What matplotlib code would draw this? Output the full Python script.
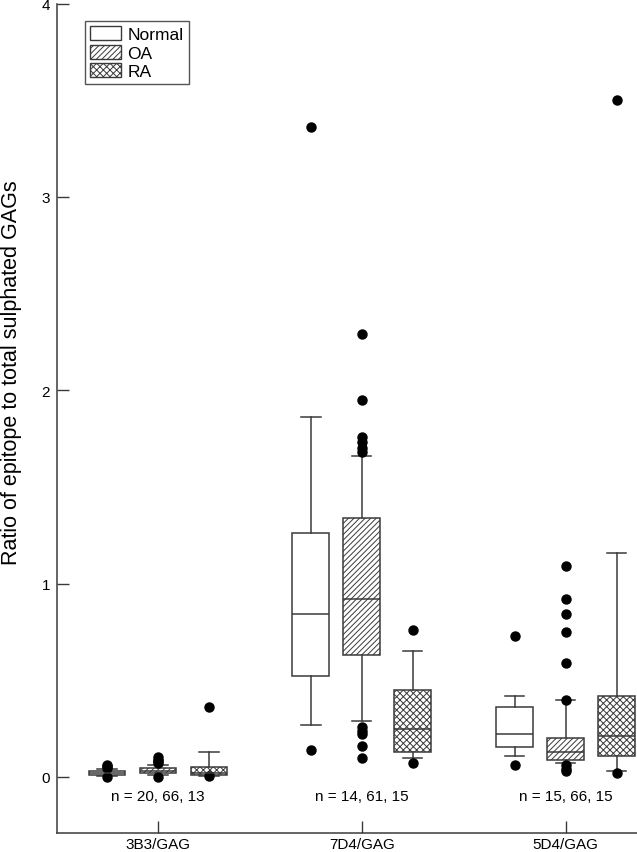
import matplotlib
matplotlib.use("Agg")
import matplotlib.pyplot as plt
from matplotlib.patches import Patch

plt.rcParams["font.family"] = ["Liberation Sans", "DejaVu Sans"]
plt.rcParams["hatch.linewidth"] = 0.7

# categories and groups
antibodies = ["3B3/GAG", "7D4/GAG", "5D4/GAG"]
groups = ["Normal", "OA", "RA"]
n_labels = ["n = 20, 66, 13", "n = 14, 61, 15", "n = 15, 66, 15"]

# box statistics, per antibody, per group
q1 = [[0.010, 0.018, 0.008], [0.52, 0.63, 0.13], [0.155, 0.09, 0.11]]
med = [[0.020, 0.032, 0.020], [0.84, 0.92, 0.25], [0.22, 0.13, 0.21]]
q3 = [[0.030, 0.048, 0.050], [1.26, 1.34, 0.45], [0.36, 0.20, 0.42]]
whislo = [[0.005, 0.010, 0.005], [0.27, 0.29, 0.10], [0.11, 0.07, 0.03]]
whishi = [[0.040, 0.060, 0.13], [1.86, 1.66, 0.65], [0.42, 0.40, 1.16]]
fliers = [
    [[0.045, 0.055, 0.06, 0.0], [0.07, 0.08, 0.09, 0.105, 0.0], [0.36, 0.005]],
    [[0.14, 3.36], [1.68, 1.70, 1.73, 1.76, 1.95, 2.29, 0.26, 0.24, 0.22, 0.16, 0.10], [0.76, 0.07]],
    [[0.73, 0.06], [1.09, 0.92, 0.84, 0.75, 0.59, 0.40, 0.06, 0.04, 0.03], [3.50, 0.02]],
]

hatches = ["", "//////", "xxxxx"]
offsets = [-0.25, 0.0, 0.25]
edge = "#3a3a3a"

fig = plt.figure(figsize=(6.37, 8.53), dpi=100)
ax = fig.add_axes([0.0895, 0.0223, 0.9105, 0.9724])

for gi in range(3):
    stats = []
    for ai in range(3):
        stats.append(dict(q1=q1[ai][gi], med=med[ai][gi], q3=q3[ai][gi],
                          whislo=whislo[ai][gi], whishi=whishi[ai][gi],
                          fliers=fliers[ai][gi]))
    pos = [i + 1 + offsets[gi] for i in range(3)]
    bp = ax.bxp(stats, positions=pos, widths=0.18, patch_artist=True,
                showfliers=True, capwidths=0.095,
                boxprops=dict(facecolor="white", edgecolor=edge, lw=1.1, hatch=hatches[gi]),
                medianprops=dict(color=edge, lw=1.1),
                whiskerprops=dict(color=edge, lw=1.1),
                capprops=dict(color=edge, lw=1.1),
                flierprops=dict(marker="o", markerfacecolor="black",
                                markeredgecolor="black", markersize=6.5))

for i, t in enumerate(n_labels):
    ax.text(i + 1, -0.10, t, ha="center", va="center", fontsize=11)

ax.set_xlim(0.505, 3.35)
ax.set_ylim(-0.29, 4)
ax.set_xticks([1, 2, 3])
ax.set_xticklabels(antibodies, fontsize=11)
ax.set_yticks([0, 1, 2, 3, 4])
ax.set_yticklabels(["0", "1", "2", "3", "4"], fontsize=11)
ax.tick_params(direction="in", length=8.5, width=1, color=edge, pad=5)
ax.tick_params(axis="x", pad=3)
ax.spines["top"].set_visible(False)
ax.spines["right"].set_visible(False)
for s in ["left", "bottom"]:
    ax.spines[s].set_color(edge)
    ax.spines[s].set_linewidth(1.1)

ax.set_ylabel("Ratio of epitope to total sulphated GAGs", fontsize=15.5)
ax.yaxis.set_label_coords(-0.061, 0.556)

handles = [Patch(facecolor="white", edgecolor=edge, hatch=h, lw=1) for h in hatches]
leg = ax.legend(handles, groups, loc="upper left", bbox_to_anchor=(0.048, 0.979),
                borderaxespad=0, fontsize=12.5, fancybox=False, handlelength=1.8,
                handleheight=0.85, handletextpad=0.35, labelspacing=0.15,
                borderpad=0.3, edgecolor="#555555", framealpha=1)
leg.get_frame().set_linewidth(1.0)

fig.savefig("out.png", dpi=100)
